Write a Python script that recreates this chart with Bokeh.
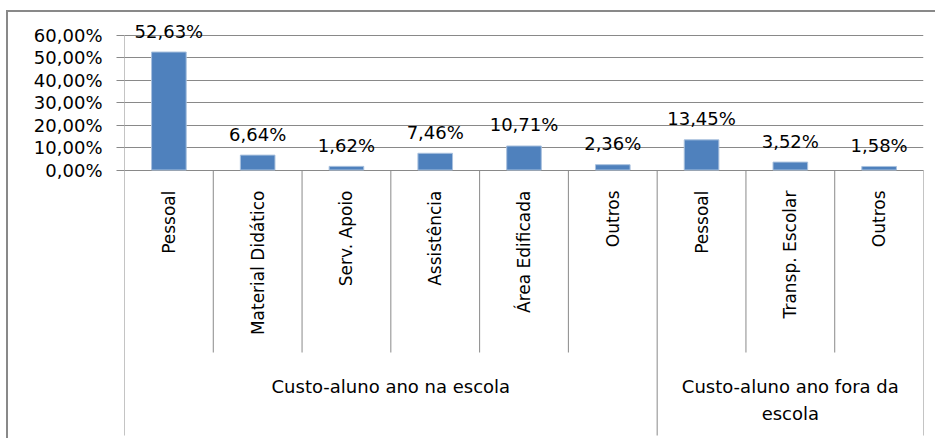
from bokeh.plotting import figure
from bokeh.models import ColumnDataSource, FactorRange, FixedTicker, CustomJSTickFormatter, Range1d
from bokeh.core.properties import value
from bokeh.embed import file_html
from bokeh.resources import INLINE
import math

# ---- data ----
group_names = ["Custo-aluno ano na escola", "Custo-aluno ano fora da escola"]
group_labels = ["Custo-aluno ano na escola", "Custo-aluno ano fora da\nescola"]
group_sizes = [6, 3]
categories = ["Pessoal", "Material Didático", "Serv. Apoio", "Assistência",
              "Área Edificada", "Outros", "Pessoal", "Transp. Escolar", "Outros"]
values = [52.63, 6.64, 1.62, 7.46, 10.71, 2.36, 13.45, 3.52, 1.58]
y_ticks = [0, 10, 20, 30, 40, 50, 60]

# ---- layout constants (page pixels) ----
CANVAS_X = 8.0
CANVAS_Y = 12.0
Y0 = 169.5      # pixel row of 0 %
Y60 = 35.0      # pixel row of 60 %
PPU = (Y0 - Y60) / 60.0
FRAME_TOP = 14.0
FRAME_BOT = 440.0

def yv(py):
    return (Y0 - py) / PPU

groups = []
for g, n in zip(group_names, group_sizes):
    groups += [g] * n
factors = list(zip(groups, categories))

FONT = "DejaVu Sans"
GRAY = "#898989"

p = figure(width=929, height=428, output_backend="svg", toolbar_location=None,
           x_range=FactorRange(*factors, range_padding=0, group_padding=0, factor_padding=0),
           y_range=Range1d(yv(FRAME_BOT), yv(FRAME_TOP)),
           x_axis_location=None, y_axis_location="left",
           min_border_left=int(124 - CANVAS_X), min_border_right=14,
           min_border_top=int(FRAME_TOP - CANVAS_Y), min_border_bottom=0)
p.styles = {"border-top": "2px solid " + GRAY, "border-left": "2px solid " + GRAY,
            "margin-top": "10px", "margin-left": "6px"}
p.outline_line_color = None
p.xgrid.visible = False
p.ygrid.ticker = FixedTicker(ticks=y_ticks)
p.ygrid.grid_line_color = GRAY
p.ygrid.grid_line_width = 1

ax = p.yaxis[0]
ax.ticker = FixedTicker(ticks=y_ticks)
ax.formatter = CustomJSTickFormatter(code="return tick.toFixed(2).replace('.', ',') + '%';")
ax.axis_line_color = None
ax.major_tick_line_color = GRAY
ax.major_tick_out = 8
ax.major_tick_in = 0
ax.minor_tick_line_color = None
ax.major_label_text_font = FONT
ax.major_label_text_font_size = "18px"
ax.major_label_text_color = "#000000"
ax.major_label_standoff = 14

# bars
src = ColumnDataSource(dict(x=factors, v=values,
                            lab=[("%.2f" % v).replace(".", ",") + "%" for v in values]))
p.vbar(x="x", top="v", bottom=0, width=0.39, source=src,
       fill_color="#4F81BD", line_color="#a9c1de", line_width=1)
p.text(x="x", y="v", text="lab", source=src, text_align="center", text_baseline="middle",
       y_offset=-21, text_font=value(FONT), text_font_size="18px", text_color="#000000")

# category separators
inner_x, group_x = [], []
start = 0
for n in group_sizes:
    for i in range(n):
        f = factors[start + i]
        if i == 0:
            group_x.append(f + (-0.5,))
        else:
            inner_x.append(f + (-0.5,))
    start += n
group_x.append(factors[-1] + (0.5,))

p.segment(x0=inner_x, x1=inner_x, y0=[0] * len(inner_x), y1=[yv(352)] * len(inner_x),
          line_color=GRAY, line_width=1)
gy0 = [60] + [0] * (len(group_x) - 1)
p.segment(x0=group_x, x1=group_x, y0=gy0, y1=[yv(435)] * len(group_x),
          line_color=GRAY, line_width=1)

# category labels (rotated)
p.text(x=factors, y=[yv(190)] * len(factors), text=categories, angle=math.pi / 2,
       text_align="right", text_baseline="middle", text_font=value(FONT),
       text_font_size="17px", text_color="#000000")

# group labels
p.text(x=group_names, y=[yv(375)] * len(group_names), text=group_labels,
       text_align="center", text_baseline="top", text_line_height=1.33,
       text_font=value(FONT), text_font_size="18px", text_color="#000000")

open("out.html", "w").write(file_html(p, INLINE))
